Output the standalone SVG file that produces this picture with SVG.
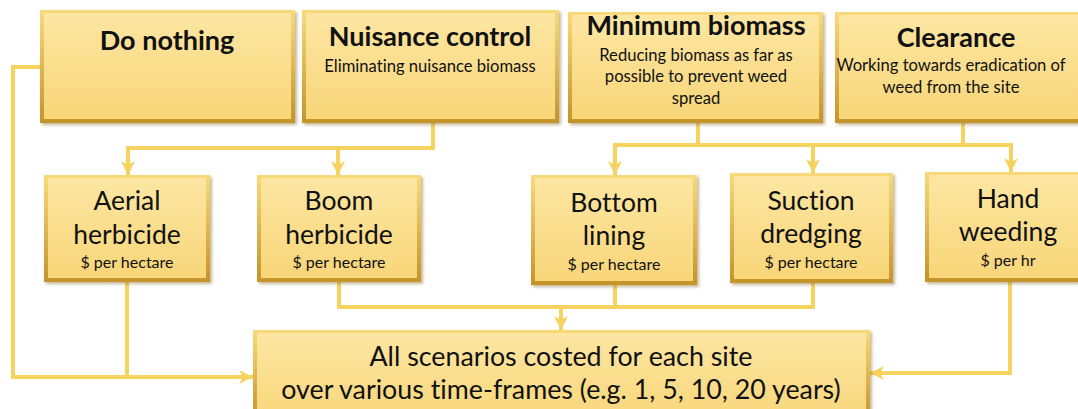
<svg xmlns="http://www.w3.org/2000/svg" width="1078" height="409" viewBox="0 0 1078 409">
<defs>
<linearGradient id="fillG" x1="0" y1="0" x2="0" y2="1">
<stop offset="0" stop-color="#FCE6A2"/>
<stop offset="1" stop-color="#F8D679"/>
</linearGradient>
<linearGradient id="edgeG" x1="0" y1="0" x2="0" y2="1">
<stop offset="0" stop-color="#F9DA7A"/>
<stop offset="1" stop-color="#C4932A"/>
</linearGradient>
<filter id="sh" x="-5%" y="-5%" width="112%" height="120%">
<feDropShadow dx="2" dy="2" stdDeviation="1.5" flood-color="#7a6020" flood-opacity="0.45"/>
</filter>
<marker id="ah" markerUnits="userSpaceOnUse" markerWidth="16" markerHeight="16" viewBox="0 0 16 16" refX="14" refY="8" orient="auto">
<path d="M0,1 L14,8 L0,15 L4,8 z" fill="#F6D25E"/>
</marker>
</defs>
<style>
.edge{fill:url(#edgeG);filter:url(#sh)}
.face{fill:url(#fillG)}
.conn{fill:none;stroke:#F6D25E;stroke-width:4}
.arr{marker-end:url(#ah)}
text{font-family:Lato,"Open Sans","Liberation Sans",sans-serif;fill:#111;text-anchor:middle;font-variant-ligatures:none}
.t{font-weight:bold;font-size:27px}
.s{font-size:16.6px}
.m{font-size:26.5px}
.p{font-size:16px}
.f{font-size:26.8px}
</style>
<rect width="1078" height="409" fill="#fff"/>
<g id="connectors">
<path class="conn arr" d="M40,67 H13 V377 H253"/>
<path class="conn" d="M127,282 V377"/>
<path class="conn arr" d="M433,123 V148 H128 V175"/>
<path class="conn arr" d="M338,148 V175"/>
<path class="conn arr" d="M698,123 V145 H615 V175"/>
<path class="conn arr" d="M963,123 V145 H1011 V172"/>
<path class="conn" d="M698,145 H963"/>
<path class="conn arr" d="M813,145 V173"/>
<path class="conn" d="M339,282 V307 H813 V283"/>
<path class="conn" d="M615,285 V307"/>
<path class="conn arr" d="M561,307 V330"/>
<path class="conn arr" d="M1010,282 V373 H870"/>
</g>
<g id="do-nothing">
<rect class="edge" x="40" y="10" width="255" height="113"/>
<rect class="face" x="44" y="13" width="247" height="106"/>
<text class="t" x="167" y="50">Do nothing</text>
</g>
<g id="nuisance-control">
<rect class="edge" x="302" y="10" width="257" height="113"/>
<rect class="face" x="306" y="13" width="249" height="106"/>
<text class="t" x="430" y="46">Nuisance control</text>
<text class="s" x="430" y="72">Eliminating nuisance biomass</text>
</g>
<g id="minimum-biomass">
<rect class="edge" x="568" y="12" width="255" height="111"/>
<rect class="face" x="572" y="15" width="247" height="104"/>
<text class="t" x="696" y="35">Minimum biomass</text>
<text class="s" x="696" y="61">Reducing biomass as far as</text>
<text class="s" x="696" y="82">possible to prevent  weed</text>
<text class="s" x="696" y="104">spread</text>
</g>
<g id="clearance">
<rect class="edge" x="835" y="12" width="250" height="111"/>
<rect class="face" x="839" y="15" width="242" height="104"/>
<text class="t" x="956" y="47">Clearance</text>
<text class="s" x="951" y="71">Working towards eradication of</text>
<text class="s" x="951" y="93">weed from the site</text>
</g>
<g id="aerial-herbicide">
<rect class="edge" x="44" y="175" width="166" height="107"/>
<rect class="face" x="48" y="178" width="158" height="100"/>
<text class="m" x="127" y="210">Aerial</text>
<text class="m" x="127" y="244">herbicide</text>
<text class="p" x="127" y="268">$ per hectare</text>
</g>
<g id="boom-herbicide">
<rect class="edge" x="257" y="175" width="164" height="107"/>
<rect class="face" x="261" y="178" width="156" height="100"/>
<text class="m" x="339" y="210">Boom</text>
<text class="m" x="339" y="244">herbicide</text>
<text class="p" x="339" y="268">$ per hectare</text>
</g>
<g id="bottom-lining">
<rect class="edge" x="531" y="175" width="166" height="110"/>
<rect class="face" x="535" y="178" width="158" height="103"/>
<text class="m" x="614" y="212">Bottom</text>
<text class="m" x="614" y="245">lining</text>
<text class="p" x="614" y="270">$ per hectare</text>
</g>
<g id="suction-dredging">
<rect class="edge" x="730" y="173" width="163" height="110"/>
<rect class="face" x="734" y="176" width="155" height="103"/>
<text class="m" x="811" y="210">Suction</text>
<text class="m" x="811" y="243">dredging</text>
<text class="p" x="811" y="268">$ per hectare</text>
</g>
<g id="hand-weeding">
<rect class="edge" x="925" y="172" width="160" height="110"/>
<rect class="face" x="929" y="175" width="152" height="103"/>
<text class="m" x="1008" y="208">Hand</text>
<text class="m" x="1008" y="241">weeding</text>
<text class="p" x="1008" y="266">$ per hr</text>
</g>
<g id="all-scenarios">
<rect class="edge" x="253" y="330" width="617" height="90"/>
<rect class="face" x="257" y="333" width="609" height="90"/>
<text class="f" x="561" y="366">All scenarios costed for each site</text>
<text class="f" x="561" y="399">over various time-frames (e.g. 1, 5, 10, 20 years)</text>
</g>
</svg>
